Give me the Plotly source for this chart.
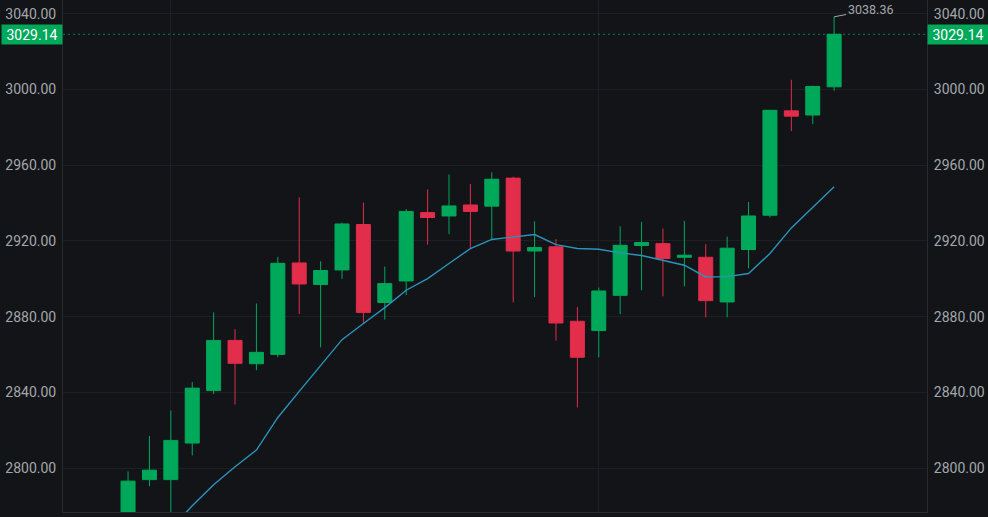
import plotly.graph_objects as go

# values; first candles run off the bottom of the chart
x = list(range(34))
opens = [2770, 2794, 2794, 2813.3, 2841, 2867.5, 2855.2, 2860.1, 2908.4, 2897,
         2904.7, 2928.7, 2887.5, 2898.9, 2935, 2933.2, 2939, 2938.4, 2953.2, 2914.7,
         2916.9, 2877.6, 2872.7, 2891.3, 2917.6, 2918.6, 2911.4, 2911.4, 2887.8, 2915.5,
         2933.6, 2988.7, 2986.5, 3001.4]
highs = [2798.3, 2817, 2830.5, 2845.5, 2882.3, 2873.4, 2887, 2911.6, 2943, 2909.3,
         2929.7, 2940.3, 2906.5, 2936.8, 2947.2, 2955.1, 2950.1, 2956.3, 2953.9, 2930.4,
         2921, 2885.1, 2895.4, 2927.8, 2930.1, 2926.6, 2930.6, 2918.3, 2922.3, 2940.6,
         2989.1, 3005.1, 3002, 3038.36]
lows = [2765, 2790.5, 2770, 2806.8, 2839.2, 2833.7, 2851.8, 2858.6, 2881.4, 2863.8,
        2900, 2876.7, 2878.5, 2891.5, 2918.1, 2923.6, 2916, 2920.4, 2887.6, 2890.4,
        2867.4, 2832.1, 2858.6, 2881.4, 2894, 2890.8, 2896.1, 2879.7, 2879.7, 2905.6,
        2932.4, 2978, 2981.7, 2999.3]
closes = [2793.2, 2799, 2814.7, 2842.3, 2867.5, 2855.4, 2861.2, 2908.2, 2897.3, 2904.4,
          2929, 2882.3, 2897.5, 2935.6, 2932.4, 2938.5, 2935.6, 2952.6, 2914.7, 2916.5,
          2876.7, 2858.6, 2893.6, 2917.7, 2919.2, 2910.7, 2912.5, 2888.5, 2916.2, 2933.2,
          2989, 2985.9, 3001.6, 3029.14]
ma = [None, None, 2768, 2780.2, 2791.3, 2800.8, 2809.6, 2826.8, 2840.6, 2854.5,
      2867.9, 2876.4, 2884.8, 2894, 2900.1, 2908.1, 2916, 2920.8, 2922.1, 2923.4,
      2918.1, 2916, 2915.6, 2913.7, 2912.3, 2909.8, 2907.2, 2901, 2901.2, 2902.8,
      2913.4, 2926.9, 2938, 2948.6]
price_ticks = [2800, 2840, 2880, 2920, 2960, 3000, 3040]
time_grid = [2, 22]
last_price = 3029.14
top_high = 3038.36

bg = '#121417'
grid = '#1c1f23'
edge = '#272a2f'
green = '#00a85a'
red = '#e22d4b'
label = '#a3a7ad'
font = 'Roboto'

fig = go.Figure()
fig.add_trace(go.Candlestick(
    x=x, open=opens, high=highs, low=lows, close=closes, yaxis='y',
    whiskerwidth=0, hoverinfo='skip',
    increasing=dict(line=dict(color=green, width=1), fillcolor=green),
    decreasing=dict(line=dict(color=red, width=1), fillcolor=red)))
fig.add_trace(go.Scatter(x=x, y=ma, mode='lines', yaxis='y2', hoverinfo='skip',
                         line=dict(color='#2b94bb', width=1.4)))

yaxis_style = dict(range=[2776.9, 3047.24], tickvals=price_ticks, tickformat='.2f',
                   tickfont=dict(family=font, size=14, color=label),
                   ticks='outside', ticklen=3, tickcolor='rgba(0,0,0,0)',
                   gridcolor=grid, zeroline=False, showline=True, linecolor=edge, linewidth=1)

fig.update_layout(
    width=988, height=517, autosize=False, showlegend=False,
    paper_bgcolor=bg, plot_bgcolor=bg, boxgap=0.065,
    margin=dict(l=63, r=61, t=0, b=5, pad=0),
    xaxis=dict(range=[-3.04, 37.34], tickvals=time_grid, showticklabels=False, ticks='',
               gridcolor=grid, zeroline=False, showline=True, linecolor=edge,
               rangeslider=dict(visible=False)),
    yaxis=dict(side='left', **yaxis_style),
    yaxis2=dict(side='right', overlaying='y', **yaxis_style),
)

fig.add_shape(type='line', xref='paper', x0=0, x1=1, yref='y', y0=last_price, y1=last_price,
              line=dict(color=green, width=1, dash='2px,3px'), opacity=0.75)

for side, anchor in [(0, 'right'), (1, 'left')]:
    fig.add_annotation(xref='paper', x=side, yref='y', y=last_price, xanchor=anchor,
                       text=f'{last_price:.2f}', showarrow=False, bgcolor=green,
                       width=60, height=19, borderpad=0,
                       font=dict(family=font, size=14, color='#ffffff'))

fig.add_annotation(x=33, y=top_high, text=f'{top_high:.2f}', ax=36, ay=-7,
                   showarrow=True, arrowhead=0, arrowwidth=1, arrowcolor=label,
                   font=dict(family=font, size=12.5, color=label))

fig.write_html("out.html", config={'displayModeBar': False},
               post_script=f"document.body.style.margin='0';document.body.style.background='{bg}';")
